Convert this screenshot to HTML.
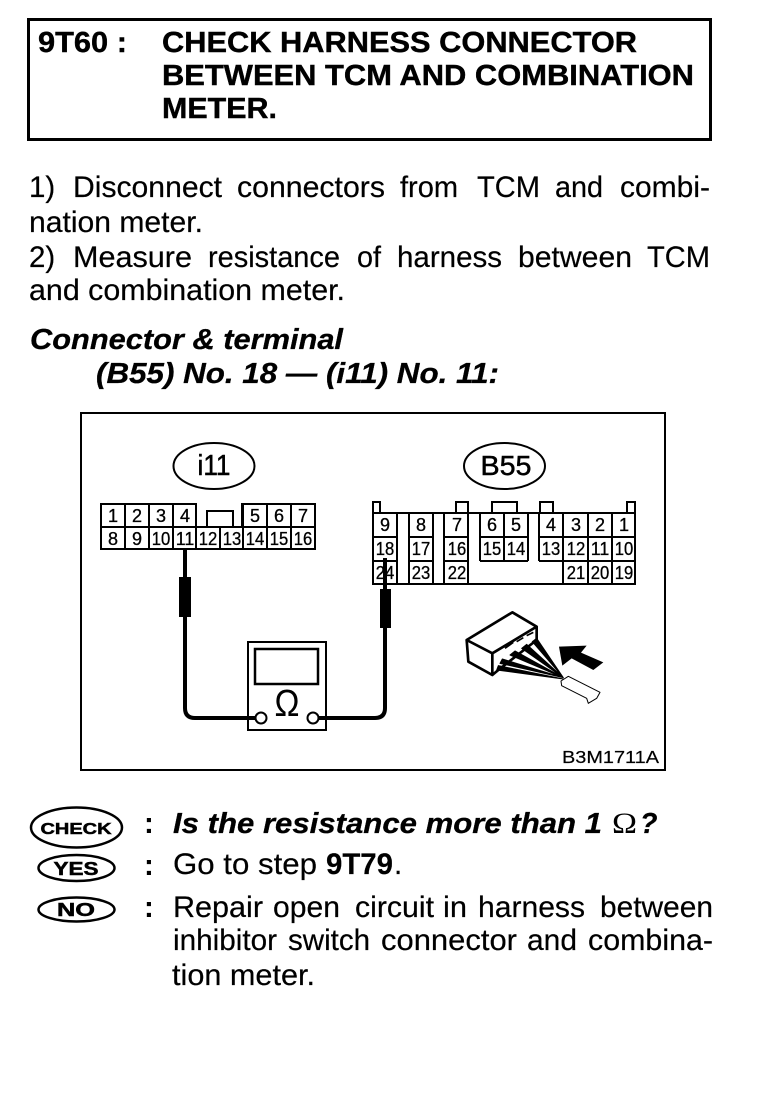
<!DOCTYPE html>
<html><head><meta charset="utf-8"><style>
html,body{margin:0;padding:0;background:#fff}
#p{position:relative;width:768px;height:1096px;overflow:hidden;background:#fff}
svg{position:absolute;left:0;top:0}
text{font-family:"Liberation Sans",sans-serif;fill:#000}
.n text{font-size:18px;text-anchor:middle;stroke:#000;stroke-width:.3}
</style></head><body><div id="p">
<svg width="768" height="1096" viewBox="0 0 768 1096">
<!-- header -->
<rect x="28.5" y="19.5" width="682" height="120" fill="none" stroke="#000" stroke-width="3"/>
<g font-weight="bold" font-size="29" stroke="#000" stroke-width=".4">
<text x="38" y="52" textLength="89" lengthAdjust="spacingAndGlyphs">9T60 :</text>
<text x="162" y="52" textLength="475" lengthAdjust="spacingAndGlyphs">CHECK HARNESS CONNECTOR</text>
<text x="162" y="85" textLength="532" lengthAdjust="spacingAndGlyphs">BETWEEN TCM AND COMBINATION</text>
<text x="162" y="118" textLength="115" lengthAdjust="spacingAndGlyphs">METER.</text>
</g>
<!-- body -->
<g font-size="29.5" stroke="#000" stroke-width=".2">
<text x="29" y="197">1)</text>
<text x="73" y="197" textLength="149" lengthAdjust="spacingAndGlyphs">Disconnect</text>
<text x="237" y="197" textLength="148" lengthAdjust="spacingAndGlyphs">connectors</text>
<text x="400" y="197" textLength="58" lengthAdjust="spacingAndGlyphs">from</text>
<text x="477" y="197" textLength="63" lengthAdjust="spacingAndGlyphs">TCM</text>
<text x="555" y="197" textLength="48" lengthAdjust="spacingAndGlyphs">and</text>
<text x="620" y="197" textLength="90" lengthAdjust="spacingAndGlyphs">combi-</text>
<text x="29" y="232" textLength="174" lengthAdjust="spacingAndGlyphs">nation meter.</text>
<text x="29" y="267">2)</text>
<text x="73" y="267" textLength="119" lengthAdjust="spacingAndGlyphs">Measure</text>
<text x="208" y="267" textLength="132" lengthAdjust="spacingAndGlyphs">resistance</text>
<text x="357" y="267" textLength="24" lengthAdjust="spacingAndGlyphs">of</text>
<text x="397" y="267" textLength="105" lengthAdjust="spacingAndGlyphs">harness</text>
<text x="518" y="267" textLength="114" lengthAdjust="spacingAndGlyphs">between</text>
<text x="647" y="267" textLength="63" lengthAdjust="spacingAndGlyphs">TCM</text>
<text x="29" y="300" textLength="316" lengthAdjust="spacingAndGlyphs">and combination meter.</text>
</g>
<g font-size="28.5" font-weight="bold" font-style="italic" stroke="#000" stroke-width=".3">
<text x="30" y="349" textLength="313" lengthAdjust="spacingAndGlyphs">Connector &amp; terminal</text>
<text x="96" y="383" textLength="403" lengthAdjust="spacingAndGlyphs">(B55) No. 18 — (i11) No. 11:</text>
</g>
<!-- diagram frame -->
<rect x="81" y="413" width="584" height="357" fill="none" stroke="#000" stroke-width="2"/>
<!-- ellipses -->
<ellipse cx="214" cy="466" rx="40.5" ry="23" fill="none" stroke="#000" stroke-width="2"/>
<text x="214" y="475" font-size="29" text-anchor="middle" textLength="33" lengthAdjust="spacingAndGlyphs" stroke="#000" stroke-width=".5">i11</text>
<ellipse cx="504.5" cy="466" rx="40.5" ry="23" fill="none" stroke="#000" stroke-width="2"/>
<text x="506" y="475" font-size="28" text-anchor="middle" textLength="51" lengthAdjust="spacingAndGlyphs" stroke="#000" stroke-width=".5">B55</text>
<!-- i11 connector -->
<g fill="none" stroke="#000" stroke-width="2">
<path d="M101 527V504H196V527M242 527V504H315V549H101V527H315"/>
<path d="M125 504V549M149 504V549M173 504V549M196 527V549M220 527V549M243 504V549M267 504V549M291 504V549"/>
<path d="M207 527V511H233V527"/>
</g>
<g class="n">
<text x="113" y="522">1</text><text x="137" y="522">2</text><text x="161" y="522">3</text><text x="185" y="522">4</text>
<text x="255" y="522">5</text><text x="279" y="522">6</text><text x="303" y="522">7</text>
<text x="113" y="545">8</text><text x="137" y="545">9</text>
<text x="161" y="545" textLength="18.500" lengthAdjust="spacingAndGlyphs">10</text><text x="185" y="545" textLength="18.500" lengthAdjust="spacingAndGlyphs">11</text><text x="208" y="545" textLength="18.500" lengthAdjust="spacingAndGlyphs">12</text><text x="232" y="545" textLength="18.500" lengthAdjust="spacingAndGlyphs">13</text><text x="255" y="545" textLength="18.500" lengthAdjust="spacingAndGlyphs">14</text><text x="279" y="545" textLength="18.500" lengthAdjust="spacingAndGlyphs">15</text><text x="303" y="545" textLength="18.500" lengthAdjust="spacingAndGlyphs">16</text>
</g>
<!-- B55 connector -->
<g fill="none" stroke="#000" stroke-width="2">
<path d="M373 513V502H380V513M456 513V502H468V513M492 513V502H517V513M540 513V502H553V513M627 513V502H635V513"/>
<path d="M373 513H635M635 513V584H373V513"/>
<path d="M373 537H397M409 537H433M444 537H468M480 537H528M539 537H635M373 561H397M409 561H433M444 561H468M480 561H528M539 561H563M563 561H635"/>
<path d="M397 513V584M409 513V584M433 513V584M444 513V584M468 513V584M480 513V561M504 513V561M528 513V561M539 513V561M563 513V584M588 513V584M612 513V584"/>
</g>
<g class="n">
<text x="385" y="531">9</text><text x="421" y="531">8</text><text x="457" y="531">7</text><text x="492" y="531">6</text><text x="516" y="531">5</text><text x="551" y="531">4</text><text x="576" y="531">3</text><text x="600" y="531">2</text><text x="624" y="531">1</text>
<text x="385" y="555" textLength="18.500" lengthAdjust="spacingAndGlyphs">18</text><text x="421" y="555" textLength="18.500" lengthAdjust="spacingAndGlyphs">17</text><text x="457" y="555" textLength="18.500" lengthAdjust="spacingAndGlyphs">16</text><text x="492" y="555" textLength="18.500" lengthAdjust="spacingAndGlyphs">15</text><text x="516" y="555" textLength="18.500" lengthAdjust="spacingAndGlyphs">14</text><text x="551" y="555" textLength="18.500" lengthAdjust="spacingAndGlyphs">13</text><text x="576" y="555" textLength="18.500" lengthAdjust="spacingAndGlyphs">12</text><text x="600" y="555" textLength="18.500" lengthAdjust="spacingAndGlyphs">11</text><text x="624" y="555" textLength="18.500" lengthAdjust="spacingAndGlyphs">10</text>
<text x="385" y="579" textLength="18.500" lengthAdjust="spacingAndGlyphs">24</text><text x="421" y="579" textLength="18.500" lengthAdjust="spacingAndGlyphs">23</text><text x="457" y="579" textLength="18.500" lengthAdjust="spacingAndGlyphs">22</text><text x="576" y="579" textLength="18.500" lengthAdjust="spacingAndGlyphs">21</text><text x="600" y="579" textLength="18.500" lengthAdjust="spacingAndGlyphs">20</text><text x="624" y="579" textLength="18.500" lengthAdjust="spacingAndGlyphs">19</text>
</g>
<!-- probes & wires -->
<rect x="179" y="577" width="12" height="40" fill="#000"/>
<rect x="380" y="589" width="11" height="39" fill="#000"/>
<path d="M185 550V708Q185 718 195 718H255M385 558V708Q385 718 375 718H319" fill="none" stroke="#000" stroke-width="4"/>
<!-- meter -->
<rect x="248" y="642" width="78" height="88" fill="none" stroke="#000" stroke-width="2"/>
<rect x="255" y="649" width="63" height="35" fill="none" stroke="#000" stroke-width="2.500"/>
<circle cx="261" cy="718" r="5.500" fill="#fff" stroke="#000" stroke-width="2"/>
<circle cx="313" cy="718" r="5.500" fill="#fff" stroke="#000" stroke-width="2"/>
<text x="287" y="716" font-size="38" text-anchor="middle" textLength="25" lengthAdjust="spacingAndGlyphs">Ω</text>
<!-- small connector -->
<g transform="translate(455 605) scale(.3333)" stroke="#000" fill="none" stroke-linejoin="round">
<path d="M35 105L172 22L245 65L112 145ZM35 105L40 170L112 210L112 145M112 210L130 195L245 105L245 65" stroke-width="8" fill="#fff"/>
<path d="M325 218L245 100L232 110ZM325 218L215 118L200 130ZM325 218L180 138L165 150ZM325 218L142 162L135 175ZM325 222L130 182L125 195Z" fill="#000" stroke-width="3"/>
<path d="M150 130L175 112M185 110L205 98M215 92L235 82" stroke-width="5"/>
<path d="M318 228L340 214L435 262L425 280L400 295L395 280L320 242Z" stroke-width="3" fill="#fff"/>
<path d="M312 125L395 122L378 143L445 172L415 195L350 160L322 182Z" fill="#000" stroke="none"/>
</g>
<text x="562" y="763" font-size="17.500" textLength="97" lengthAdjust="spacingAndGlyphs" stroke="#000" stroke-width=".2">B3M1711A</text>
<!-- ovals -->
<g fill="none" stroke="#000" stroke-width="2.500">
<ellipse cx="76.500" cy="827.500" rx="45.500" ry="20"/>
<ellipse cx="76.500" cy="868" rx="38" ry="13"/>
<ellipse cx="76.500" cy="909.500" rx="38" ry="12"/>
</g>
<g font-weight="bold" text-anchor="middle" stroke="#000" stroke-width=".5">
<text x="76" y="834" font-size="16" textLength="71" lengthAdjust="spacingAndGlyphs">CHECK</text>
<text x="76" y="875" font-size="18" textLength="45" lengthAdjust="spacingAndGlyphs">YES</text>
<text x="76" y="916" font-size="18" textLength="38" lengthAdjust="spacingAndGlyphs">NO</text>
</g>
<g font-size="29.500" font-weight="bold">
<text x="144" y="833">:</text><text x="144" y="875">:</text><text x="144" y="917">:</text>
</g>
<g font-size="29.500" stroke="#000" stroke-width=".2">
<text x="173" y="874" textLength="144" lengthAdjust="spacingAndGlyphs">Go to step</text>
<text x="326" y="874" textLength="67" lengthAdjust="spacingAndGlyphs" font-weight="bold">9T79</text>
<text x="394" y="874">.</text>
<text x="173" y="917" textLength="90" lengthAdjust="spacingAndGlyphs">Repair</text>
<text x="273" y="917" textLength="67" lengthAdjust="spacingAndGlyphs">open</text>
<text x="355" y="917" textLength="79" lengthAdjust="spacingAndGlyphs">circuit</text>
<text x="443" y="917" textLength="24" lengthAdjust="spacingAndGlyphs">in</text>
<text x="478" y="917" textLength="107" lengthAdjust="spacingAndGlyphs">harness</text>
<text x="600" y="917" textLength="113" lengthAdjust="spacingAndGlyphs">between</text>
<text x="173" y="950" textLength="104" lengthAdjust="spacingAndGlyphs">inhibitor</text>
<text x="288" y="950" textLength="82" lengthAdjust="spacingAndGlyphs">switch</text>
<text x="381" y="950" textLength="136" lengthAdjust="spacingAndGlyphs">connector</text>
<text x="527" y="950" textLength="50" lengthAdjust="spacingAndGlyphs">and</text>
<text x="588" y="950" textLength="125" lengthAdjust="spacingAndGlyphs">combina-</text>
<text x="172" y="985" textLength="143" lengthAdjust="spacingAndGlyphs">tion meter.</text>
</g>
<g font-size="28.500" font-weight="bold" font-style="italic" stroke="#000" stroke-width=".3">
<text x="173" y="833" textLength="429" lengthAdjust="spacingAndGlyphs">Is the resistance more than 1</text>
<text x="640" y="833">?</text>
</g>
<text x="612" y="833" font-size="30" textLength="25" lengthAdjust="spacingAndGlyphs" style="font-family:'Liberation Serif',serif">Ω</text>
</svg>
</div></body></html>
